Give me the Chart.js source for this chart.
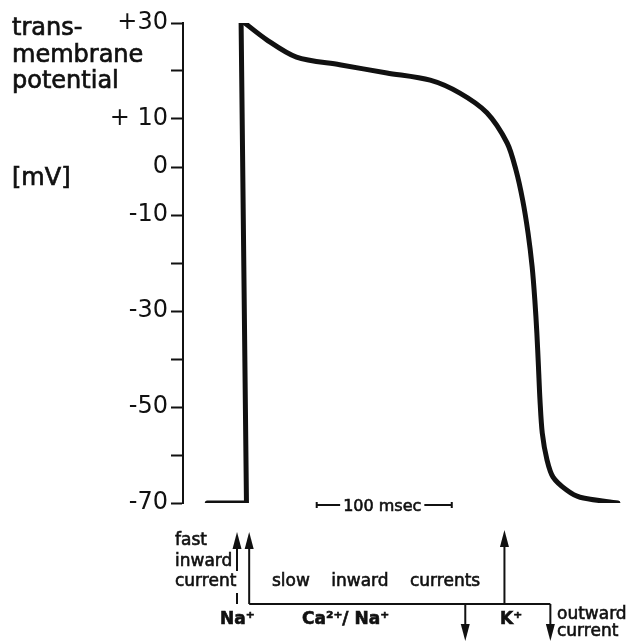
<!DOCTYPE html>
<html>
<head>
<meta charset="utf-8">
<script src="https://cdn.jsdelivr.net/npm/chart.js@4"></script>
<style>
  html, body { margin: 0; padding: 0; background: #fff; }
  #wrap { width: 631px; height: 642px; }
</style>
</head>
<body>
<div id="wrap"><canvas id="apChart" width="631" height="642"></canvas></div>
<script>
// resting phase + upstroke (ms, mV)
const restTime = [-29, 0, -4];
const restMv = [-70, -70, 30.6];

// plateau + repolarisation (ms, mV)
const apTime = [-4, 15, 37, 69, 104, 136, 158, 178, 193, 199.5, 204.5, 208.5, 211.5, 213.5, 215, 216.2, 217.3, 219, 222.5, 227, 237, 247, 275];
const apMv = [30.6, 26.5, 22.9, 21.3, 19.6, 18.1, 15.4, 11.3, 5.0, -0.6, -6.9, -13.8, -20.8, -27.7, -34.6, -41.7, -48.5, -55.4, -61.0, -64.6, -67.3, -68.8, -70];

// y ticks that carry a label
const tickLabels = { 30: '+30', 10: '+ 10', 0: '0', '-10': '-10', '-30': '-30', '-50': '-50', '-70': '-70' };

const ink = '#111';
const font = '"DejaVu Sans", sans-serif';

function toPoints(xs, ys) {
    return xs.map((t, i) => ({ x: t, y: ys[i] }));
}

function arrow(ctx, x, yFrom, yTip) {
    const dir = yFrom > yTip ? 1 : -1;
    ctx.beginPath();
    ctx.moveTo(x, yFrom);
    ctx.lineTo(x, yTip + dir * 12);
    ctx.stroke();
    ctx.beginPath();
    ctx.moveTo(x, yTip);
    ctx.lineTo(x - 4.5, yTip + dir * 17);
    ctx.lineTo(x + 4.5, yTip + dir * 17);
    ctx.closePath();
    ctx.fill();
}

// filled text with a thin outline so it reads as heavy as the scan
function label(ctx, s, x, y) {
    ctx.fillText(s, x, y);
    ctx.strokeText(s, x, y);
}

const annotate = {
    id: 'annotate',
    afterDraw(chart) {
        const { ctx, chartArea } = chart;
        const xs = chart.scales.x;
        const bottom = chartArea.bottom;
        ctx.save();
        ctx.fillStyle = ink;
        ctx.strokeStyle = ink;
        ctx.textAlign = 'left';
        ctx.textBaseline = 'alphabetic';

        // axis title on the left
        ctx.lineWidth = 0.7;
        ctx.font = '24px ' + font;
        ['trans-', 'membrane', 'potential'].forEach((s, i) => label(ctx, s, 12, 35 + i * 26.5));
        label(ctx, '[mV]', 12, 185);

        // 100 msec scale bar
        const b0 = xs.getPixelForValue(52), b1 = xs.getPixelForValue(152);
        const by = bottom + 2;
        ctx.font = '16px ' + font;
        ctx.textAlign = 'center';
        const mid = (b0 + b1) / 2 - 2;
        ctx.lineWidth = 0.6;
        label(ctx, '100 msec', mid, by + 6);
        const half = ctx.measureText('100 msec').width / 2 + 3;
        ctx.lineWidth = 2;
        ctx.beginPath();
        ctx.moveTo(b0, by); ctx.lineTo(mid - half, by);
        ctx.moveTo(mid + half, by); ctx.lineTo(b1, by);
        ctx.moveTo(b0, by - 3); ctx.lineTo(b0, by + 3);
        ctx.moveTo(b1, by - 3); ctx.lineTo(b1, by + 3);
        ctx.stroke();

        // currents below the trace
        const lineY = bottom + 101;
        const fastX = xs.getPixelForValue(-7);
        const slowX = xs.getPixelForValue(2);
        const kX = xs.getPixelForValue(191);
        const downX = xs.getPixelForValue(162);
        const endX = xs.getPixelForValue(225);
        ctx.lineWidth = 2;
        arrow(ctx, fastX, bottom + 68, bottom + 29);
        ctx.beginPath();
        ctx.moveTo(fastX, bottom + 90); ctx.lineTo(fastX, lineY);
        ctx.stroke();
        arrow(ctx, slowX, lineY, bottom + 29);
        arrow(ctx, kX, lineY, bottom + 27);
        ctx.beginPath();
        ctx.moveTo(slowX, lineY); ctx.lineTo(endX, lineY);
        ctx.stroke();
        arrow(ctx, downX, lineY, 641);
        arrow(ctx, endX, lineY, 641);

        ctx.textAlign = 'left';
        ctx.lineWidth = 0.6;
        ctx.font = '17px ' + font;
        label(ctx, 'fast', 175, bottom + 42);
        label(ctx, 'inward', 175, bottom + 63);
        label(ctx, 'current', 175, bottom + 83);
        ctx.wordSpacing = '16px';
        label(ctx, 'slow inward currents', 272, bottom + 83);
        ctx.wordSpacing = '0px';
        label(ctx, 'outward', 557, bottom + 116);
        label(ctx, 'current', 557, bottom + 133);

        ctx.font = 'bold 17px ' + font;
        label(ctx, 'Na\u207A', 220, bottom + 121);
        label(ctx, 'Ca\u00B2\u207A/ Na\u207A', 302, bottom + 121);
        label(ctx, 'K\u207A', 500, bottom + 121);
        ctx.restore();
    }
};

new Chart(document.getElementById('apChart'), {
    type: 'scatter',
    data: {
        datasets: [
            {
                data: toPoints(restTime, restMv),
                showLine: true,
                borderColor: ink,
                borderWidth: 5,
                borderCapStyle: 'round',
                borderJoinStyle: 'miter',
                pointRadius: 0,
                tension: 0
            },
            {
                data: toPoints(apTime, apMv),
                showLine: true,
                borderColor: ink,
                borderWidth: 5,
                borderCapStyle: 'round',
                pointRadius: 0,
                tension: 0.3
            }
        ]
    },
    options: {
        responsive: false,
        devicePixelRatio: 1,
        animation: false,
        layout: { padding: { left: 0, right: 5, top: 23, bottom: 139 } },
        plugins: { legend: { display: false }, tooltip: { enabled: false } },
        scales: {
            x: { type: 'linear', display: false, min: -47, max: 281 },
            y: {
                type: 'linear',
                min: -70,
                max: 30,
                afterFit: s => { s.width = 183; },
                grid: { drawOnChartArea: false, drawTicks: true, tickLength: 12, tickWidth: 2, color: ink },
                border: { display: true, color: ink, width: 2 },
                ticks: {
                    stepSize: 10,
                    autoSkip: false,
                    padding: 3,
                    color: ink,
                    font: { family: 'DejaVu Sans', size: 24 },
                    callback: v => tickLabels[v] || ''
                }
            }
        }
    },
    plugins: [annotate]
});
</script>
</body>
</html>
